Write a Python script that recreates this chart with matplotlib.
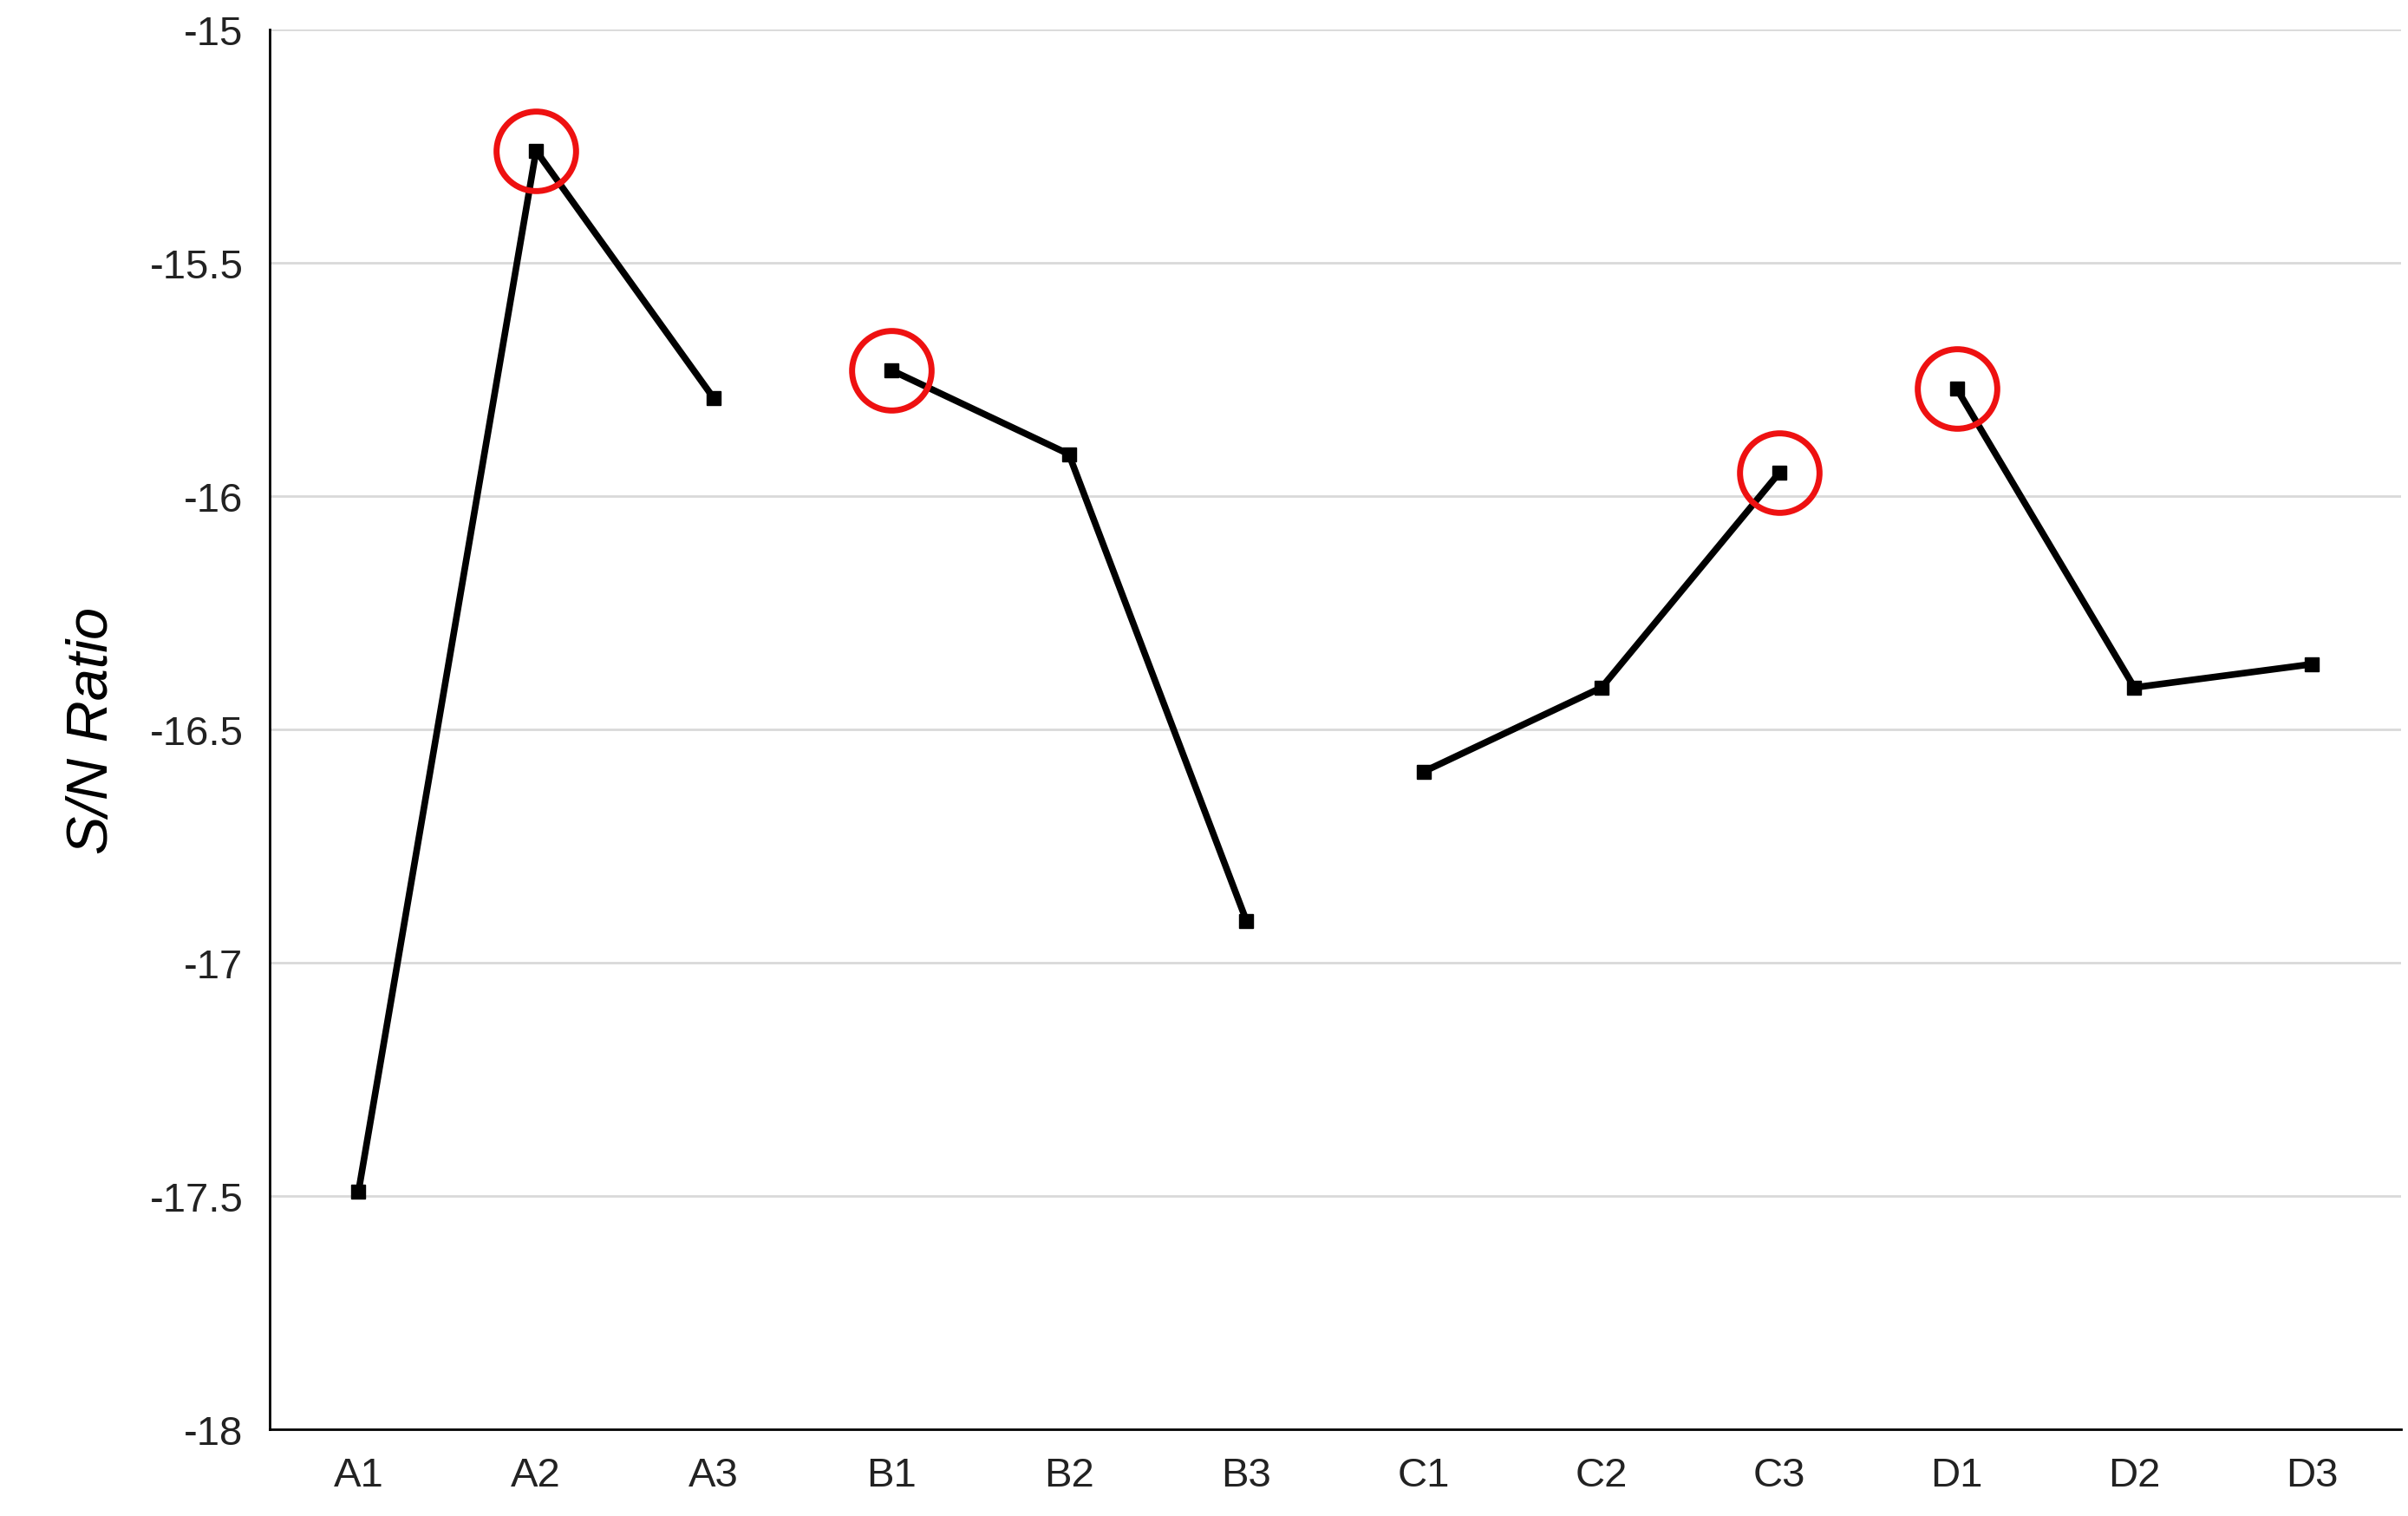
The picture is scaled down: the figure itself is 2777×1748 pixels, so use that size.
import matplotlib
matplotlib.use("Agg")
import matplotlib.pyplot as plt

plt.rcParams['font.family'] = ['Liberation Sans', 'DejaVu Sans']

labels = ["A1","A2","A3","B1","B2","B3","C1","C2","C3","D1","D2","D3"]
values = [-17.49,-15.26,-15.79,-15.73,-15.91,-16.91,-16.59,-16.41,-15.95,-15.77,-16.41,-16.36]
optimal = ["A2","B1","C3","D1"]

fig = plt.figure(figsize=(27.77,17.49), dpi=100)
ax = fig.add_axes([0.112,0.057,0.885,0.923])
x = list(range(len(labels)))
for g in range(4):
    xs = x[g*3:g*3+3]; ys = values[g*3:g*3+3]
    ax.plot(xs, ys, color='black', lw=5.5, marker='s', ms=12, zorder=3)
for lab in optimal:
    i = labels.index(lab)
    ax.plot(x[i], values[i], marker='o', ms=66, mfc='none', mec='#ee1111', mew=5, zorder=4)
ax.set_xlim(-0.5, 11.5)
ax.set_ylim(-18, -15)
ax.set_yticks([-18,-17.5,-17,-16.5,-16,-15.5,-15])
ax.set_yticklabels(["-18","-17.5","-17","-16.5","-16","-15.5","-15"])
ax.set_xticks(x); ax.set_xticklabels(labels)
ax.tick_params(length=0, labelsize=34, colors='#222222', pad=22)
ax.grid(axis='y', color='#d9d9d9', lw=2)
ax.set_axisbelow(True)
for s in ['top','right']:
    ax.spines[s].set_visible(False)
for s in ['left','bottom']:
    ax.spines[s].set_linewidth(2)
ax.set_ylabel("S/N Ratio", fontsize=48, style='italic', labelpad=25)
fig.savefig("out.png", dpi=100)
